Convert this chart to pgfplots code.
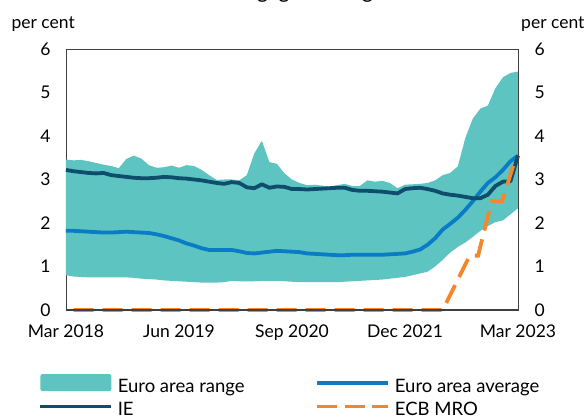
\documentclass[border=0pt]{standalone}
\usepackage{fontspec}
\setmainfont{Lato}
\usepackage{pgfplots}
\usepackage{pgfplotstable}
\usepgfplotslibrary{fillbetween}
\pgfplotsset{compat=1.18}
\definecolor{rangec}{HTML}{5EC4C1}
\definecolor{avgc}{HTML}{0A7CC6}
\definecolor{iec}{HTML}{0E4D6C}
\definecolor{mroc}{HTML}{F5862A}
\definecolor{axc}{HTML}{404040}

\pgfplotstableread{
m up lo avg ie
0 3.46 0.80 1.82 3.22
1 3.44 0.77 1.82 3.19
2 3.45 0.76 1.81 3.17
3 3.42 0.75 1.80 3.15
4 3.38 0.75 1.79 3.14
5 3.34 0.75 1.78 3.15
6 3.31 0.75 1.78 3.10
7 3.26 0.75 1.79 3.08
8 3.47 0.75 1.80 3.06
9 3.55 0.74 1.79 3.04
10 3.48 0.72 1.78 3.03
11 3.33 0.71 1.77 3.03
12 3.27 0.70 1.74 3.04
13 3.28 0.68 1.70 3.06
14 3.32 0.67 1.65 3.05
15 3.27 0.66 1.60 3.03
16 3.33 0.65 1.53 3.02
17 3.31 0.64 1.48 3.00
18 3.22 0.63 1.42 2.98
19 3.10 0.63 1.38 2.95
20 2.99 0.63 1.38 2.92
21 3.00 0.64 1.38 2.90
22 3.00 0.67 1.38 2.94
23 2.98 0.66 1.35 2.92
24 3.10 0.66 1.31 2.82
25 3.60 0.66 1.30 2.80
26 3.89 0.67 1.32 2.89
27 3.40 0.67 1.34 2.81
28 3.36 0.67 1.36 2.84
29 3.14 0.66 1.35 2.83
30 3.00 0.65 1.34 2.78
31 2.92 0.64 1.33 2.78
32 2.87 0.64 1.30 2.77
33 2.88 0.64 1.29 2.78
34 2.86 0.64 1.28 2.79
35 2.83 0.64 1.27 2.80
36 2.87 0.64 1.26 2.81
37 2.90 0.65 1.26 2.81
38 2.85 0.66 1.27 2.76
39 2.85 0.67 1.27 2.74
40 2.98 0.68 1.27 2.74
41 2.95 0.69 1.27 2.73
42 2.97 0.70 1.27 2.72
43 2.92 0.72 1.28 2.70
44 2.80 0.74 1.29 2.68
45 2.88 0.76 1.30 2.78
46 2.89 0.80 1.34 2.80
47 2.90 0.84 1.39 2.81
48 2.92 0.88 1.50 2.78
49 2.98 1.00 1.65 2.74
50 3.10 1.15 1.85 2.68
51 3.15 1.32 1.98 2.65
52 3.30 1.45 2.12 2.63
53 3.95 1.55 2.30 2.60
54 4.40 1.68 2.50 2.57
55 4.63 1.82 2.72 2.57
56 4.70 1.93 2.92 2.65
57 5.10 2.02 3.05 2.85
58 5.35 2.06 3.22 2.95
59 5.45 2.20 3.42 2.96
60 5.48 2.34 3.55 3.55
}\euro

\pgfplotstableread{
m mro
1 0
50 0
53.6 1.25
54.7 1.25
56.5 2.5
57.9 2.5
59.7 3.5
}\mro

\begin{document}
\begin{tikzpicture}[font=\fontsize{17.5}{21}\selectfont]
\begin{axis}[
  scale only axis, width=452pt, height=261pt,
  xmin=0, xmax=60, ymin=0, ymax=6,
  xtick={0,15,30,45,60},
  xticklabels={Mar 2018,Jun 2019,Sep 2020,Dec 2021,Mar 2023},
  ytick={0,1,2,3,4,5,6},
  major tick length=0pt,
  axis line style={draw=axc, line width=0.9pt},
  /pgf/number format/assume math mode=true,
  tick label style={font=\fontsize{17.5}{21}\selectfont},
  yticklabel style={xshift=-12pt},
  xticklabel style={yshift=-11pt},
  clip=false,
  legend columns=2,
  legend cell align=left,
  legend style={draw=none, fill=none, inner sep=0pt, outer sep=0pt,
    at={(rel axis cs:-0.0608,-0.2455)}, anchor=north west,
    row sep=7.5pt,
    nodes={inner sep=2pt, text height=0.75em, text depth=0.25em, font=\fontsize{18.5}{22}\selectfont},
    /tikz/every odd column/.append style={column sep=2.5pt},
    /tikz/every even column/.append style={column sep=69pt}},
]
\addplot[name path=up, draw=none, forget plot] table[x=m, y=up] {\euro};
\addplot[name path=lo, draw=none, forget plot] table[x=m, y=lo] {\euro};
\addplot[fill=rangec, draw=none,
  legend image code/.code={\fill[rangec, rounded corners=2pt] (0pt,-1pt) rectangle (71pt,16pt);}]
  fill between[of=up and lo];
\addlegendentry{Euro area range}
\addplot[avgc, line width=3.8pt, line join=round,
  legend image code/.code={\draw[avgc, line width=3.8pt] (0pt,7pt) -- (71pt,7pt);}]
  table[x=m, y=avg] {\euro};
\addlegendentry{Euro area average}
\addplot[iec, line width=3.8pt, line join=round,
  legend image code/.code={\draw[iec, line width=3.8pt] (0pt,7pt) -- (71pt,7pt);}]
  table[x=m, y=ie] {\euro};
\addlegendentry{IE}
\addplot[mroc, line width=3.8pt, dash pattern=on 20pt off 9pt,
  legend image code/.code={\draw[mroc, line width=3.8pt, dash pattern=on 20pt off 7.5pt] (0pt,7pt) -- (71pt,7pt);}]
  table[x=m, y=mro] {\mro};
\addlegendentry{ECB MRO}
\draw[axc, line width=1.8pt] (rel axis cs:0,0) -- (rel axis cs:1,0);
\coordinate (ll) at (rel axis cs:0,0);
\end{axis}
\begin{axis}[
  scale only axis, width=452pt, height=261pt,
  xmin=0, xmax=60, ymin=0, ymax=6,
  hide x axis, axis y line*=right,
  ytick={0,1,2,3,4,5,6},
  major tick length=0pt,
  axis line style={draw=axc, line width=0.9pt},
  /pgf/number format/assume math mode=true,
  tick label style={font=\fontsize{17.5}{21}\selectfont},
  yticklabel style={xshift=13pt},
]
\addplot[draw=none] coordinates {(0,0)};
\end{axis}
\node[anchor=base east, inner sep=0pt] at ([shift={(9pt,281pt)}]ll) {per cent};
\node[anchor=base west, inner sep=0pt] at ([shift={(455pt,281pt)}]ll) {per cent};
\node[anchor=base, inner sep=0pt, font=\fontsize{21}{25}\selectfont] at ([shift={(228pt,311.3pt)}]ll) {New mortgage lending rates};
\pgfresetboundingbox
\path[use as bounding box] ([shift={(-66pt,-109pt)}]ll) rectangle ([shift={(522pt,310pt)}]ll);
\end{tikzpicture}
\end{document}
